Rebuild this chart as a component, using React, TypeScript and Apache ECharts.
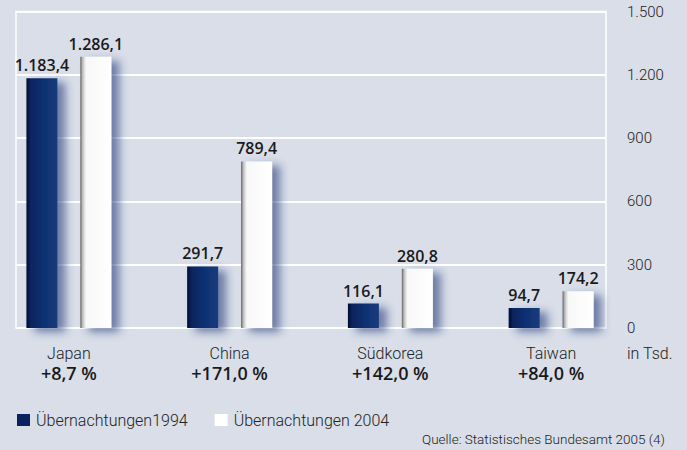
import React, { useEffect, useRef } from "react";
import * as echarts from "echarts";

const categories = ["Japan", "China", "Südkorea", "Taiwan"];
const changes = ["+8,7 %", "+171,0 %", "+142,0 %", "+84,0 %"];
const values1994 = [1183.4, 291.7, 116.1, 94.7];
const values2004 = [1286.1, 789.4, 280.8, 174.2];
const seriesNames = ["Übernachtungen1994", "Übernachtungen 2004"];
const yTicks = [0, 300, 600, 900, 1200, 1500];
const unitLabel = "in Tsd.";
const sourceText = "Quelle: Statistisches Bundesamt 2005 (4)";

const fmt = (v: number, dec: number) => {
  const s = v.toFixed(dec);
  const [i, d] = s.split(".");
  const ii = i.replace(/\B(?=(\d{3})+(?!\d))/g, ".");
  return d !== undefined ? ii + "," + d : ii;
};

export default function App() {
  const ref = useRef<HTMLDivElement>(null);
  useEffect(() => {
    document.body.style.margin = "0";
    if (!ref.current) return;
    const chart = echarts.init(ref.current, undefined, { renderer: "svg" });
    const top = 11.5;
    const height = 316.5;
    const darkGrad = new echarts.graphic.LinearGradient(0, 0, 1, 0, [
      { offset: 0, color: "#000f33" },
      { offset: 0.15, color: "#0a2560" },
      { offset: 0.6, color: "#0f3273" },
      { offset: 1, color: "#1a3c7c" },
    ]);
    const whiteGrad = new echarts.graphic.LinearGradient(0, 0, 1, 0, [
      { offset: 0, color: "#5e5e5e" },
      { offset: 0.07, color: "#bdbdbd" },
      { offset: 0.18, color: "#f8f8f8" },
      { offset: 1, color: "#ffffff" },
    ]);
    const shadow = {
      shadowBlur: 9,
      shadowColor: "rgba(40,60,125,0.6)",
      shadowOffsetX: 8,
      shadowOffsetY: 4,
    };
    const labelStyle = {
      show: true,
      position: "top" as const,
      distance: 5,
      fontFamily: "Open Sans",
      fontSize: 16,
      fontWeight: 600,
      color: "#1a1a1a",
    };
    chart.setOption({
      animation: false,
      backgroundColor: "#d9dee8",
      grid: [
        {
          left: 16,
          top,
          width: 590,
          height,
          show: true,
          borderColor: "#ffffff",
          borderWidth: 1.5,
          backgroundColor: "transparent",
          outerBoundsMode: "none",
        },
        { left: -11.5, top, width: 643, height, outerBoundsMode: "none" },
      ],
      xAxis: [
        { gridIndex: 0, type: "value", show: false, min: 0, max: 1 },
        {
          gridIndex: 1,
          type: "category",
          data: categories,
          axisLine: { show: false },
          axisTick: { show: false },
          axisLabel: {
            margin: 15,
            formatter: (v: string, i: number) => `{a|${v}}\n{b|${changes[i]}}`,
            rich: {
              a: {
                fontFamily: "Roboto",
                fontWeight: 300,
                fontSize: 16,
                color: "#222",
                lineHeight: 20,
              },
              b: {
                fontFamily: "Open Sans",
                fontWeight: 600,
                fontSize: 18,
                color: "#1a1a1a",
                lineHeight: 20,
              },
            },
          },
        },
      ],
      yAxis: [
        {
          gridIndex: 0,
          type: "value",
          position: "right",
          min: 0,
          max: 1500,
          interval: 300,
          axisLine: { show: false },
          axisTick: { show: false },
          splitLine: { lineStyle: { color: "#ffffff", width: 2 } },
          axisLabel: {
            margin: 21,
            fontFamily: "Roboto",
            fontWeight: 300,
            fontSize: 15,
            color: "#222",
            verticalAlign: "middle",
            formatter: (v: number) => (yTicks.includes(v) ? fmt(v, 0) : ""),
          },
        },
        { gridIndex: 1, type: "value", show: false, min: 0, max: 1500 },
      ],
      legend: {
        left: 12,
        top: 407,
        icon: "rect",
        itemWidth: 13,
        itemHeight: 12,
        itemGap: 27,
        textStyle: {
          fontFamily: "Roboto",
          fontWeight: 300,
          fontSize: 16,
          color: "#222",
          padding: [0, 0, 0, 1],
        },
        data: [
          { name: seriesNames[0], itemStyle: { color: "#0a2260", shadowBlur: 0 } },
          { name: seriesNames[1], itemStyle: { color: "#ffffff", shadowBlur: 0 } },
        ],
      },
      graphic: [
        {
          type: "text",
          x: 627,
          y: 353,
          style: {
            text: unitLabel,
            fontFamily: "Roboto",
            fontWeight: 300,
            fontSize: 16,
            fill: "#222",
            verticalAlign: "middle",
          },
        },
        {
          type: "text",
          x: 665,
          y: 439,
          style: {
            text: sourceText,
            fontFamily: "Roboto",
            fontWeight: 300,
            fontSize: 13.5,
            fill: "#222",
            align: "right",
            verticalAlign: "middle",
          },
        },
      ],
      series: [
        {
          name: seriesNames[0],
          type: "bar",
          xAxisIndex: 1,
          yAxisIndex: 1,
          data: values1994,
          barWidth: 31,
          barGap: "74%",
          itemStyle: { color: darkGrad, ...shadow },
          label: { ...labelStyle, formatter: (p: any) => fmt(p.value, 1) },
        },
        {
          name: seriesNames[1],
          type: "bar",
          xAxisIndex: 1,
          yAxisIndex: 1,
          data: values2004,
          barWidth: 31,
          itemStyle: { color: whiteGrad, ...shadow },
          label: { ...labelStyle, formatter: (p: any) => fmt(p.value, 1) },
        },
      ],
    });
    return () => chart.dispose();
  }, []);
  return <div ref={ref} style={{ width: 687, height: 450 }} />;
}
